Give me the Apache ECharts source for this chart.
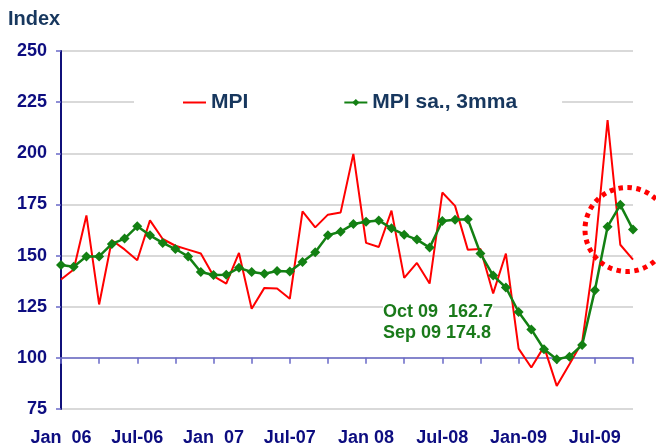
<!DOCTYPE html>
<html><head><meta charset="utf-8">
<script src="https://cdn.jsdelivr.net/npm/echarts@6/dist/echarts.min.js"></script>
<style>html,body{margin:0;padding:0;background:#fff}#c{width:656px;height:448px}</style>
</head><body><div id="c"></div>
<script>
const categories = [
  'Jan 06','Feb 06','Mar 06','Apr 06','May 06','Jun 06','Jul 06','Aug 06','Sep 06','Oct 06','Nov 06','Dec 06',
  'Jan 07','Feb 07','Mar 07','Apr 07','May 07','Jun 07','Jul 07','Aug 07','Sep 07','Oct 07','Nov 07','Dec 07',
  'Jan 08','Feb 08','Mar 08','Apr 08','May 08','Jun 08','Jul 08','Aug 08','Sep 08','Oct 08','Nov 08','Dec 08',
  'Jan 09','Feb 09','Mar 09','Apr 09','May 09','Jun 09','Jul 09','Aug 09','Sep 09','Oct 09'
];
const xTickLabels = ['Jan  06','Jul-06','Jan  07','Jul-07','Jan 08','Jul-08','Jan-09','Jul-09'];
const mpi = [
  138.3,143.2,169.6,126.1,157.5,153.0,147.7,167.2,158.1,154.8,152.9,151.0,
  140.0,136.3,151.3,124.0,134.2,133.9,128.9,171.6,163.8,170.0,171.1,199.7,
  156.2,154.2,172.0,139.1,146.4,136.3,180.8,174.3,152.9,153.2,131.5,151.0,
  104.5,95.3,105.5,86.3,96.9,107.7,152.0,216.2,155.3,148.0
];
const mpiSa3mma = [
  145.4,144.5,149.6,149.6,155.7,158.3,164.3,159.9,156.2,153.2,149.6,142.0,
  140.5,140.6,144.0,142.0,141.1,142.5,142.2,146.9,151.6,159.9,161.7,165.4,
  166.5,167.2,163.3,160.2,157.8,153.9,166.9,167.5,167.7,151.0,140.2,134.4,
  122.4,113.9,104.2,99.3,100.6,106.3,133.1,164.1,174.8,162.7
];
const yTicks = {min: 75, max: 250, interval: 25};
const annotation = ['Oct 09  162.7', 'Sep 09 174.8'];

const FONT = '"Liberation Sans", Arial, sans-serif';
const NAVY = '#0d0d80';
const gridTop = 51, gridH = 358;
const axisCrossValue = 100;
const xOffset = -gridH * (axisCrossValue - yTicks.min) / (yTicks.max - yTicks.min);

const chart = echarts.init(document.getElementById('c'), null, {renderer: 'canvas'});
chart.setOption({
  animation: false,
  backgroundColor: '#fff',
  textStyle: {fontFamily: FONT},
  grid: {left: 61, top: gridTop, width: 572, height: gridH, containLabel: false},
  legend: {
    left: 134, top: 88,
    backgroundColor: '#fff',
    padding: [4, 45, 4, 48],
    itemGap: 95, itemWidth: 23, itemHeight: 9,
    textStyle: {fontFamily: FONT, fontWeight: 'bold', fontSize: 21, color: '#17375E'},
    data: [
      {name: 'MPI', itemStyle: {opacity: 0}},
      {name: 'MPI sa., 3mma'}
    ]
  },
  xAxis: [{
    type: 'category', data: categories, boundaryGap: false,
    position: 'bottom', offset: xOffset,
    axisLine: {onZero: false, lineStyle: {color: '#6a6ac8', width: 1.5}},
    axisTick: {show: true, interval: 2, length: 6, lineStyle: {color: '#6a6ac8', width: 1.5}},
    axisLabel: {show: false},
    splitLine: {show: false}
  }, {
    type: 'category', data: categories, boundaryGap: false,
    position: 'bottom', gridIndex: 0,
    axisLine: {show: false}, axisTick: {show: false},
    axisLabel: {
      show: true, interval: 5, margin: 20,
      fontFamily: FONT, fontWeight: 'bold', fontSize: 18, color: NAVY,
      formatter: (v, i) => xTickLabels[i / 6] || ''
    },
    splitLine: {show: false}
  }],
  yAxis: {
    type: 'value', min: yTicks.min, max: yTicks.max, interval: yTicks.interval,
    axisLine: {show: true, lineStyle: {color: '#10107a', width: 2}},
    axisTick: {show: true, length: 5, lineStyle: {color: '#6a6ac8', width: 1.5}},
    axisLabel: {margin: 14, fontFamily: FONT, fontWeight: 'bold', fontSize: 18, color: NAVY},
    splitLine: {show: true, lineStyle: {color: '#cccccc', width: 1.5}}
  },
  series: [{
    name: 'MPI', type: 'line', data: mpi, xAxisIndex: 0,
    symbol: 'none', showSymbol: false,
    lineStyle: {color: '#ff0000', width: 2}, itemStyle: {color: '#ff0000'}, z: 3
  }, {
    name: 'MPI sa., 3mma', type: 'line', data: mpiSa3mma, xAxisIndex: 0,
    symbol: 'diamond', symbolSize: 10, showSymbol: true, showAllSymbol: true,
    lineStyle: {color: '#138013', width: 2.5}, itemStyle: {color: '#138013'}, z: 4
  }],
  graphic: [{
    type: 'text', left: 8, top: 9,
    style: {text: 'Index', font: 'bold 20px ' + FONT, fill: '#17375E'}
  }, {
    type: 'text', left: 383, top: 302, z: 5,
    style: {text: annotation.join('\n'), font: 'bold 18px ' + FONT, fill: '#1a7a1a', lineHeight: 21,
            backgroundColor: '#fff'}
  }, {
    type: 'circle', shape: {cx: 627, cy: 229.5, r: 42}, z: 10,
    style: {fill: 'none', stroke: '#ff0000', lineWidth: 5, lineDash: [4.5, 4.5]}
  }]
});
</script>
</body></html>
